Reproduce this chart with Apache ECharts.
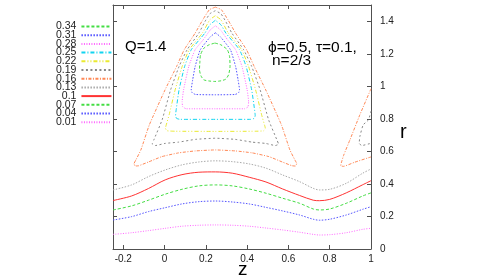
<!DOCTYPE html>
<html>
<head>
<meta charset="utf-8">
<script src="https://cdn.jsdelivr.net/npm/echarts@6/dist/echarts.min.js"></script>
<style>
  html, body { margin: 0; padding: 0; background: #fff; }
  #chart { width: 485px; height: 277px; }
</style>
</head>
<body>
<div id="chart"></div>
<script>
// Contour levels, legend order top to bottom
const levels = ['0.34', '0.31', '0.28', '0.25', '0.22', '0.19', '0.16', '0.13', '0.1', '0.07', '0.04', '0.01'];
const xTicks = [-0.2, 0, 0.2, 0.4, 0.6, 0.8, 1];
const yTicks = [0, 0.2, 0.4, 0.6, 0.8, 1, 1.2, 1.4];

// closed contours of the island centred at z=0.25, points as [z, r]
const c034 = [[0.244,1.266],[0.273,1.255],[0.304,1.225],[0.315,1.182],[0.317,1.122],[0.310,1.071],[0.296,1.044],[0.273,1.034],[0.244,1.030],[0.215,1.033],[0.190,1.040],[0.176,1.065],[0.169,1.102],[0.171,1.151],[0.174,1.194],[0.190,1.234],[0.215,1.255],[0.244,1.266]];
const c031 = [[0.246,1.329],[0.222,1.305],[0.173,1.225],[0.148,1.122],[0.136,1.040],[0.129,0.978],[0.134,0.960],[0.150,0.950],[0.246,0.948],[0.342,0.950],[0.358,0.960],[0.363,0.978],[0.356,1.040],[0.344,1.122],[0.319,1.225],[0.270,1.305],[0.246,1.329]];
const c028 = [[0.246,1.372],[0.222,1.348],[0.187,1.286],[0.148,1.225],[0.117,1.122],[0.092,0.978],[0.085,0.905],[0.088,0.874],[0.105,0.862],[0.246,0.862],[0.387,0.862],[0.404,0.874],[0.407,0.905],[0.400,0.978],[0.375,1.122],[0.344,1.225],[0.305,1.286],[0.270,1.348],[0.246,1.372]];
const c025 = [[0.246,1.406],[0.219,1.378],[0.195,1.327],[0.129,1.225],[0.097,1.122],[0.070,0.978],[0.056,0.855],[0.053,0.820],[0.058,0.803],[0.075,0.797],[0.246,0.797],[0.417,0.797],[0.434,0.803],[0.439,0.820],[0.436,0.855],[0.422,0.978],[0.395,1.122],[0.363,1.225],[0.297,1.327],[0.273,1.378],[0.246,1.406]];
const c022 = [[0.246,1.434],[0.219,1.409],[0.183,1.327],[0.119,1.225],[0.085,1.122],[0.051,0.978],[0.022,0.825],[0.008,0.763],[0.004,0.742],[0.012,0.727],[0.050,0.724],[0.246,0.723],[0.442,0.724],[0.480,0.727],[0.488,0.742],[0.484,0.763],[0.470,0.825],[0.441,0.978],[0.407,1.122],[0.373,1.225],[0.309,1.327],[0.273,1.409],[0.246,1.434]];
const c019 = [[0.246,1.465],[0.219,1.446],[0.195,1.397],[0.166,1.327],[0.109,1.225],[0.070,1.122],[0.029,0.978],[-0.012,0.794],[-0.052,0.671],[-0.060,0.645],[-0.045,0.636],[0.002,0.649],[0.068,0.657],[0.150,0.674],[0.246,0.681],[0.342,0.674],[0.424,0.657],[0.490,0.649],[0.537,0.636],[0.552,0.645],[0.544,0.671],[0.504,0.794],[0.463,0.978],[0.422,1.122],[0.383,1.225],[0.326,1.327],[0.297,1.397],[0.273,1.446],[0.246,1.465]];
const c016 = [[0.246,1.487],[0.217,1.471],[0.185,1.409],[0.148,1.327],[0.095,1.225],[0.058,1.122],[0.002,0.978],[-0.074,0.763],[-0.115,0.609],[-0.139,0.548],[-0.148,0.525],[-0.142,0.510],[-0.125,0.512],[-0.078,0.535],[-0.013,0.568],[0.068,0.591],[0.150,0.603],[0.246,0.609],[0.342,0.603],[0.424,0.591],[0.505,0.568],[0.570,0.535],[0.617,0.512],[0.634,0.510],[0.640,0.525],[0.631,0.548],[0.607,0.609],[0.566,0.763],[0.490,0.978],[0.434,1.122],[0.397,1.225],[0.344,1.327],[0.307,1.409],[0.275,1.471],[0.246,1.487]];

// pieces of the next island (z=1.25) cut by the right border
const c019b = [[1.0,0.848],[0.988,0.794],[0.962,0.763],[0.946,0.691],[0.943,0.650],[0.955,0.636],[1.0,0.650]];
const c016b = [[1.0,0.985],[0.946,0.825],[0.898,0.671],[0.868,0.578],[0.856,0.529],[0.853,0.512],[0.866,0.508],[0.920,0.533],[1.0,0.566]];

// open contours below the islands
const c013 = [[-0.25,0.363],[-0.16,0.394],[-0.078,0.445],[0.003,0.486],[0.084,0.517],[0.166,0.535],[0.247,0.542],[0.328,0.537],[0.41,0.523],[0.491,0.497],[0.572,0.455],[0.654,0.414],[0.72,0.373],[0.75,0.363],[0.80,0.367],[0.88,0.404],[0.96,0.466],[1.0,0.492]];
const c010 = [[-0.25,0.298],[-0.16,0.326],[-0.078,0.372],[0.003,0.425],[0.084,0.457],[0.166,0.472],[0.247,0.474],[0.328,0.466],[0.41,0.441],[0.491,0.412],[0.572,0.369],[0.654,0.329],[0.72,0.300],[0.75,0.297],[0.80,0.305],[0.88,0.345],[0.96,0.395],[1.0,0.420]];
const c007 = [[-0.25,0.240],[-0.16,0.265],[-0.078,0.300],[0.003,0.337],[0.084,0.367],[0.166,0.388],[0.247,0.394],[0.328,0.388],[0.41,0.369],[0.491,0.343],[0.572,0.312],[0.654,0.281],[0.72,0.246],[0.75,0.240],[0.80,0.246],[0.88,0.281],[0.96,0.326],[1.0,0.345]];
const c004 = [[-0.25,0.178],[-0.16,0.199],[-0.078,0.230],[0.003,0.254],[0.084,0.277],[0.166,0.291],[0.247,0.295],[0.328,0.289],[0.41,0.277],[0.491,0.256],[0.572,0.234],[0.654,0.209],[0.72,0.183],[0.75,0.177],[0.80,0.183],[0.88,0.209],[0.96,0.244],[1.0,0.260]];
const c001 = [[-0.25,0.090],[-0.16,0.100],[-0.078,0.113],[0.003,0.127],[0.084,0.140],[0.166,0.146],[0.247,0.148],[0.328,0.146],[0.41,0.140],[0.491,0.129],[0.572,0.117],[0.654,0.103],[0.72,0.090],[0.75,0.086],[0.80,0.088],[0.88,0.100],[0.96,0.121],[1.0,0.127]];

// gnuplot-ish line types per level
const styles = {
  '0.34': { color: '#44dd44', dash: [3, 2] },
  '0.31': { color: '#5555ff', dash: [1.5, 1.5] },
  '0.28': { color: '#ff66ff', dash: [1, 1.5] },
  '0.25': { color: '#11d4f0', dash: [4, 2, 1, 2] },
  '0.22': { color: '#eaea30', dash: [4, 2, 1, 2, 1, 2] },
  '0.19': { color: '#888888', dash: [2, 2.5] },
  '0.16': { color: '#ff8855', dash: [3, 1.5, 1, 1.5] },
  '0.13': { color: '#aaaaaa', dash: [1.5, 1.5] },
  '0.1':  { color: '#ff3333', dash: 'solid' },
  '0.07': { color: '#44dd44', dash: [3, 2] },
  '0.04': { color: '#5555ff', dash: [1.5, 1.5] },
  '0.01': { color: '#ff66ff', dash: [1, 1.5] },
};

const pieces = [
  ['0.34', c034, 0.2], ['0.31', c031, 0.15], ['0.28', c028, 0.15], ['0.25', c025, 0.15],
  ['0.22', c022, 0.15], ['0.19', c019, 0.15], ['0.19', c019b, 0.15],
  ['0.16', c016, 0.15], ['0.16', c016b, 0.15],
  ['0.13', c013, 0.3], ['0.1', c010, 0.3], ['0.07', c007, 0.3], ['0.04', c004, 0.3], ['0.01', c001, 0.3],
];

const FONT = '"Liberation Sans", Arial, sans-serif';
const AXIS = '#505050';

const chart = echarts.init(document.getElementById('chart'), null, { renderer: 'canvas' });

const baseX = {
  type: 'value', min: -0.25, max: 1,
  axisLine: { show: true, onZero: false, lineStyle: { color: AXIS, width: 1 } },
  axisTick: { show: true, inside: true, length: 4, customValues: xTicks, lineStyle: { color: AXIS } },
  splitLine: { show: false },
};
const baseY = {
  type: 'value', min: 0, max: 1.5,
  axisLine: { show: true, onZero: false, lineStyle: { color: AXIS, width: 1 } },
  axisTick: { show: true, inside: true, length: 4, customValues: yTicks, lineStyle: { color: AXIS } },
  splitLine: { show: false },
};

chart.setOption({
  animation: false,
  backgroundColor: '#fff',
  grid: { left: 113, right: 114, top: 5, bottom: 28 },
  legend: {
    orient: 'vertical', left: 56, top: 21, padding: 0,
    align: 'right', itemWidth: 30, itemHeight: 8, itemGap: -2.3,
    selectedMode: false, data: levels,
    itemStyle: { opacity: 0 },
    textStyle: { fontSize: 10.5, lineHeight: 8, color: '#222', fontFamily: FONT },
  },
  xAxis: [
    Object.assign({}, baseX, {
      position: 'bottom',
      axisLabel: { customValues: xTicks, fontSize: 10, margin: 5, color: '#222', fontFamily: FONT },
    }),
    Object.assign({}, baseX, { position: 'top', axisLabel: { show: false } }),
  ],
  yAxis: [
    Object.assign({}, baseY, {
      position: 'right',
      axisLabel: { customValues: yTicks, fontSize: 10, margin: 9, color: '#222', fontFamily: FONT },
    }),
    Object.assign({}, baseY, { position: 'left', axisLabel: { show: false } }),
  ],
  graphic: [
    { type: 'text', left: 125, top: 39, style: { text: 'Q=1.4', font: '15px ' + FONT, fill: '#000' } },
    { type: 'text', left: 268, top: 40, style: { text: 'ϕ=0.5, τ=0.1,', font: '15.5px ' + FONT, fill: '#000' } },
    { type: 'text', left: 272, top: 53, style: { text: 'n=2/3', font: '15.5px ' + FONT, fill: '#000' } },
    { type: 'text', left: 400, top: 122, style: { text: 'r', font: '20px ' + FONT, fill: '#000' } },
    { type: 'text', left: 238, top: 260, style: { text: 'z', font: '19px ' + FONT, fill: '#000' } },
  ],
  series: pieces.map(([name, data, smooth]) => ({
    name, type: 'line', data, smooth,
    xAxisIndex: 0, yAxisIndex: 0,
    symbol: 'none', clip: true, silent: true,
    lineStyle: { color: styles[name].color, width: 1, type: styles[name].dash },
    itemStyle: { color: styles[name].color },
    emphasis: { disabled: true },
  })),
});
</script>
</body>
</html>
